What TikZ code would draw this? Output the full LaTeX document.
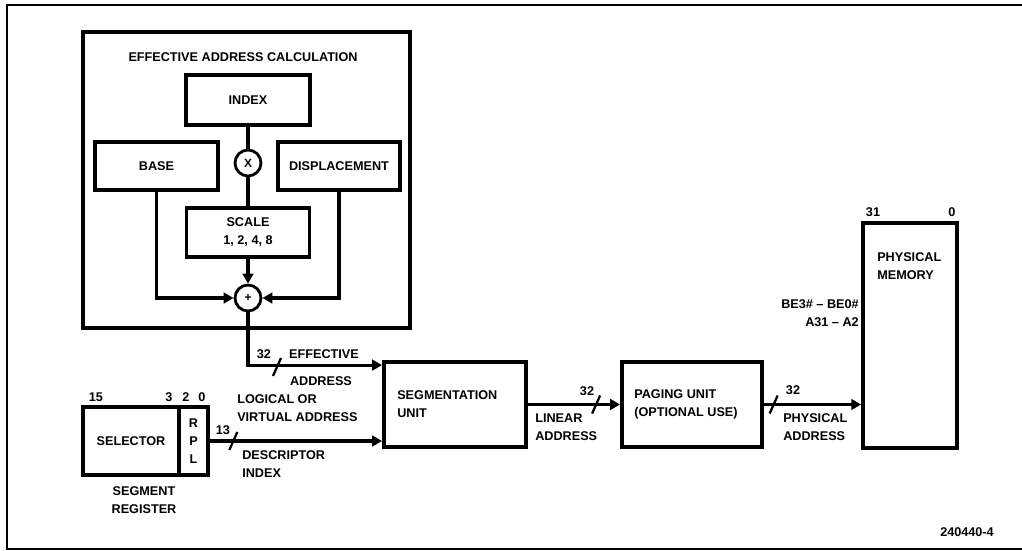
\documentclass[tikz,border=0pt]{standalone}
\usepackage{fontspec}
\setmainfont{Liberation Sans}
\usetikzlibrary{calc,arrows.meta}

\tikzset{
  lbl/.style={font=\fontsize{9}{12.8}\selectfont\bfseries, inner sep=0pt, align=left},
  blk/.style={draw, line width=2.7pt, inner sep=0pt, align=center,
              font=\fontsize{9}{12.8}\selectfont\bfseries},
  op/.style={draw, circle, line width=2pt, minimum size=0.65cm, inner sep=0pt,
             font=\fontsize{8.5}{9}\selectfont\bfseries},
  wire/.style={line width=2.2pt},
  bus/.style={line width=2.2pt, -{Triangle[length=7pt,width=7.5pt]}}
}
\newcommand{\busslash}[1]{\draw[line width=1.6pt] ($(#1)+(-4,9)$) -- ($(#1)+(4,-9)$);}

\begin{document}
\begin{tikzpicture}[x=0.025cm,y=-0.025cm]
\useasboundingbox (0,0) rectangle (1022,551);
\draw[line width=1.5pt] (1022,5) -- (7,5) -- (7,549) -- (1022,549);

% effective address calculation
\node[blk, line width=2.4pt, minimum width=8.175cm, minimum height=7.4cm] (eac) at (246.5,180) {};
\node[lbl] (eactitle) at (243,57) {EFFECTIVE ADDRESS CALCULATION};
\node[blk, minimum width=3.1cm, minimum height=1.25cm] (index) at (248,100) {INDEX};
\node[op] (mul) at (248,163) {X};
\node[blk, minimum width=3.075cm, minimum height=1.2cm] (base) at (156.5,166) {BASE};
\node[blk, minimum width=3.05cm, minimum height=1.2cm] (disp) at (339,166) {DISPLACEMENT};
\node[blk, minimum width=3.075cm, minimum height=1.225cm] (scale) at (248,232.5) {SCALE\\1, 2, 4, 8};
\node[op] (add) at (248,298) {+};

\draw[wire] (index) -- (mul);
\draw[wire] (mul) -- (scale);
\draw[bus] (scale) -- (add);
\draw[bus] (base.south) |- (add.west);
\draw[bus] (disp.south) |- (add.east);

% segment register
\node[blk, minimum width=2.4cm, minimum height=1.7cm] (sel) at (131,441) {SELECTOR};
\node[blk, minimum width=0.725cm, minimum height=1.7cm] (rpl) at (193.5,441) {R\\P\\L};
\node[lbl] (b15) at (96,397) {15};
\node[lbl] (b3) at (169,397) {3};
\node[lbl] (b2) at (186,397) {2};
\node[lbl] (b0) at (202,397) {0};
\node[lbl, align=center] (segreg) at (144,500) {SEGMENT\\REGISTER};

% units
\node[blk, minimum width=3.55cm, minimum height=2.125cm] (seg) at (455,404.5) {};
\node[lbl, anchor=west] (segtxt) at (397,404) {SEGMENTATION\\UNIT};
\node[blk, minimum width=3.5cm, minimum height=2.125cm] (paging) at (692,404.5) {};
\node[lbl, anchor=west] (pagtxt) at (634,404) {PAGING UNIT\\(OPTIONAL USE)};
\node[blk, minimum width=2.35cm, minimum height=5.625cm] (mem) at (910,335.5) {};
\node[lbl, anchor=west] (memtxt) at (877,266) {PHYSICAL\\MEMORY};
\node[lbl] (m31) at (873,212) {31};
\node[lbl] (m0) at (952,212) {0};
\node[lbl, anchor=east, align=right] (busnames) at (859,313) {BE3\# -- BE0\#\\A31 -- A2};

% buses
\draw[bus] (add.south) |- ([yshift=-0.125cm]seg.north west);
\coordinate (effmark) at (277,367);
\busslash{effmark}
\node[lbl] (eff32) at (264,354) {32};
\node[lbl] (efftxt) at (324,354) {EFFECTIVE};
\node[lbl] (effaddr) at (321,381) {ADDRESS};

\draw[bus] (rpl.east) -- coordinate[pos=0.136] (descmark) (rpl.east -| seg.west);
\busslash{descmark}
\node[lbl] (desc13) at (223,430) {13};
\node[lbl, anchor=west] (logtxt) at (237,408) {LOGICAL OR\\VIRTUAL ADDRESS};
\node[lbl, anchor=west] (desctxt) at (242,464) {DESCRIPTOR\\INDEX};

\draw[bus] (seg) -- coordinate[pos=0.74] (linmark) (paging);
\busslash{linmark}
\node[lbl] (lin32) at (587,391) {32};
\node[lbl, anchor=west] (lintxt) at (535,427) {LINEAR\\ADDRESS};

\draw[bus] (paging.east) -- coordinate[pos=0.1] (phymark) (paging.east -| mem.west);
\busslash{phymark}
\node[lbl] (phy32) at (793,390) {32};
\node[lbl, anchor=west] (phytxt) at (783,427) {PHYSICAL\\ADDRESS};

\node[lbl] (figno) at (967,532) {240440-4};
\end{tikzpicture}
\end{document}
